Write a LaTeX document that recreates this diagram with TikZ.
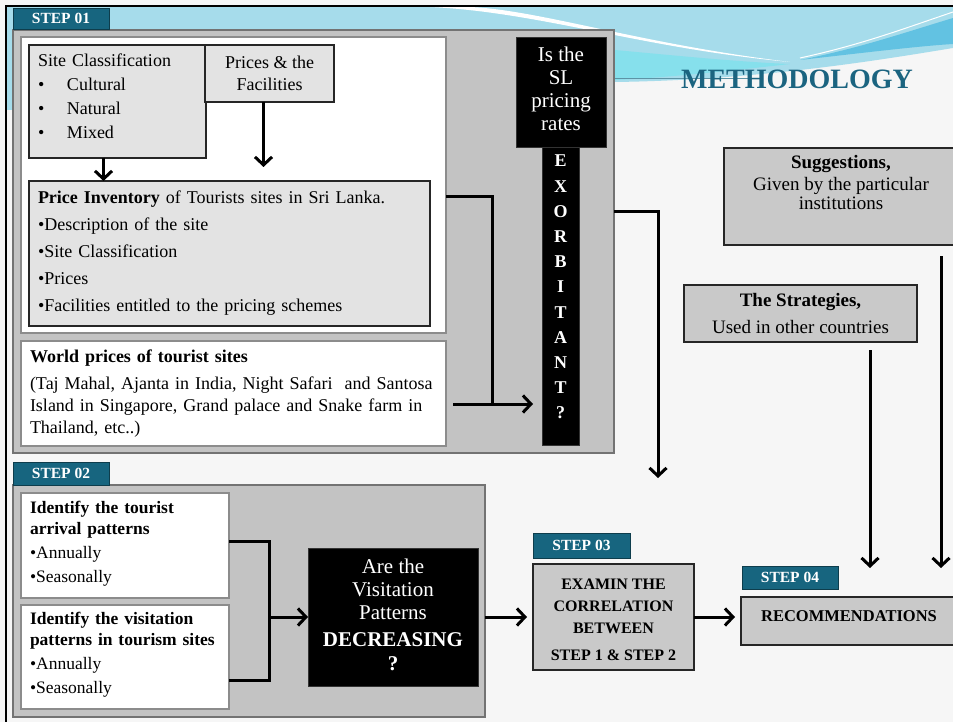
\documentclass[tikz,border=0pt]{standalone}
\usepackage{fontspec}
\setmainfont{Liberation Serif}
\usetikzlibrary{arrows.meta}
\definecolor{tabteal}{HTML}{17657F}
\definecolor{titleteal}{HTML}{1B6480}
\definecolor{panelgray}{HTML}{C3C3C3}
\definecolor{boxgray}{HTML}{E3E3E3}
\definecolor{sidegray}{HTML}{C9C9C9}
\definecolor{swoosh}{HTML}{A6DCEB}
\definecolor{swooshdark}{HTML}{62C2E2}
\definecolor{swooshcyan}{HTML}{86E0EC}
\definecolor{pagebg}{HTML}{F6F6F6}
\newcommand{\lowdepth}[1]{\rule[-#1]{0pt}{#1}}
\begin{document}
\begin{tikzpicture}[x=1pt,y=-1pt,
  every node/.style={rectangle,anchor=north west,inner sep=0pt,outer sep=0pt},
  box/.style={draw=black!85,line width=1.1pt},
  panel/.style={fill=panelgray,draw=black!55,line width=1.4pt},
  wbox/.style={fill=white,draw=black!45,line width=1.2pt},
  tab/.style={fill=tabteal,draw=tabteal!60!black,line width=0.8pt,text=white,font=\bfseries\fontsize{15.5}{15.5}\selectfont},
  blk/.style={fill=black,text=white,draw=black!80},
  conn/.style={line width=3pt},
  arr/.style={line width=3pt,-{Straight Barb[length=8pt,width=17pt]}}]
  \clip (0,0) rectangle (953,722);
  \fill[pagebg] (0,0) rectangle (953,722);
  % top swoosh
  \fill[swoosh] (7,7) -- (953,7) -- (953,48) .. controls (880,60) and (760,80) .. (615,82) -- (615,30) -- (7,30) -- cycle;
  \fill[swooshcyan] (615,50) .. controls (680,56) and (740,62) .. (790,64) .. controls (720,72) and (660,78) .. (615,80) -- cycle;
  \fill[white] (430,7) .. controls (540,12) and (640,48) .. (790,62) .. controls (640,44) and (540,10) .. (470,7) -- cycle;
  \fill[swooshdark] (953,18) .. controls (900,34) and (860,48) .. (800,60) .. controls (870,52) and (920,46) .. (953,44) -- cycle;
  \draw[white,line width=1pt] (953,12) .. controls (900,30) and (860,45) .. (800,58);
  \draw[tabteal!70,line width=0.8pt] (590,78) -- (760,78);
  \fill[swoosh] (7,30) rectangle (12,110);
  \draw[line width=2pt] (6,722) -- (6,6) -- (953,6);

  % step 01
  \node[panel,minimum width=601pt,minimum height=423pt] (panelA) at (13,30) {};
  \node[tab,minimum width=96pt,minimum height=21pt] (tabA) at (13,8) {STEP 01};
  \node[wbox,minimum width=425pt,minimum height=296pt] (whiteA) at (21,37) {};
  \node[box,fill=boxgray,minimum width=177pt,minimum height=113pt,text width=159pt,inner xsep=9pt,align=left,font=\fontsize{18}{24}\selectfont] (site) at (29,45)
    {Site Classification\\ \makebox[29pt][l]{•}Cultural\\ \makebox[29pt][l]{•}Natural\\ \makebox[29pt][l]{•}Mixed\lowdepth{10pt}};
  \node[box,fill=boxgray,minimum width=129pt,minimum height=57pt,align=center,font=\fontsize{18}{22}\selectfont] (prices) at (205,45) {Prices \& the\\Facilities};
  \node[box,fill=boxgray,minimum width=401pt,minimum height=145pt,text width=383pt,inner xsep=9pt,align=left,font=\fontsize{18}{27}\selectfont] (invent) at (29,181)
    {\textbf{Price Inventory} of Tourists sites in Sri Lanka.\\ •Description of the site\\ •Site Classification\\ •Prices\\ •Facilities entitled to the pricing schemes};
  \node[wbox,minimum width=425pt,minimum height=105pt,text width=407pt,inner xsep=9pt,align=left,font=\fontsize{18}{22}\selectfont] (world) at (21,341)
    {\textbf{World prices of tourist sites}\\[5pt] (Taj Mahal, Ajanta in India, Night Safari\ \ and Santosa\\ Island in Singapore, Grand palace and Snake farm in\\ Thailand, etc..)};
  \node[blk,minimum width=90pt,minimum height=110pt,align=center,font=\fontsize{21}{23}\selectfont] (slrates) at (516,37) {Is the\\SL\\pricing\\rates\lowdepth{7pt}};
  \node[blk,minimum width=37pt,minimum height=298pt,align=center,font=\bfseries\fontsize{18}{25.2}\selectfont] (exorb) at (542,147) {E\\X\\O\\R\\B\\I\\T\\A\\N\\T\\?\lowdepth{18pt}};

  \draw[arr] ([xshift=-14pt]site.south) -- ([xshift=-14pt]site.south |- invent.north);
  \draw[arr,shorten >=14pt] ([xshift=-6pt]prices.south) -- ([xshift=-6pt]prices.south |- invent.north);
  \coordinate (joinA) at (492,197);
  \coordinate (joinB) at (492,404);
  \coordinate (worldout) at (453,404);
  \draw[conn] (whiteA.east |- joinA) -- (joinA) -- (joinB);
  \draw[arr,shorten >=9pt] (worldout) -- (exorb.west |- worldout);
  \coordinate (turnA) at (658,212);
  \coordinate (dropA) at (658,478);
  \draw[arr] (panelA.east |- turnA) -- (turnA) -- (dropA);

  \node[anchor=center,text=titleteal,font=\bfseries\fontsize{28}{28}\selectfont] (title) at (797,79) {METHODOLOGY};

  % right column
  \node[box,fill=sidegray,minimum width=234pt,minimum height=97pt] (suggest) at (724,148) {};
  \node[anchor=north,align=center,font=\fontsize{19}{19}\selectfont] (suggestText) at ([yshift=-7pt]suggest.north)
    {\textbf{Suggestions,}\\[3pt]Given by the particular\\institutions};
  \node[box,fill=sidegray,minimum width=233pt,minimum height=57pt,align=center,font=\fontsize{19}{27}\selectfont] (strat) at (684,285)
    {\textbf{The Strategies,}\\Used in other countries};
  \coordinate (stratout) at (870,350);
  \coordinate (stratin) at (870,568);
  \coordinate (suggout) at (941,256);
  \coordinate (suggin) at (941,568);
  \draw[arr] (stratout) -- (stratin);
  \draw[arr] (suggout) -- (suggin);

  % step 02
  \node[panel,minimum width=472pt,minimum height=232pt] (panelB) at (13,485) {};
  \node[tab,minimum width=96pt,minimum height=23pt] (tabB) at (13,462) {STEP 02};
  \node[wbox,minimum width=208pt,minimum height=105pt,text width=190pt,inner xsep=9pt,align=left,font=\fontsize{17.5}{24}\selectfont] (arrival) at (21,493)
    {\textbf{Identify the tourist}\\[-3pt]\textbf{arrival patterns}\\ •Annually\\ •Seasonally\lowdepth{8pt}};
  \node[wbox,minimum width=208pt,minimum height=104pt,text width=190pt,inner xsep=9pt,align=left,font=\fontsize{17.5}{24}\selectfont] (visit) at (21,605)
    {\textbf{Identify the visitation}\\[-3pt]\textbf{patterns in tourism sites}\\ •Annually\\ •Seasonally\lowdepth{8pt}};
  \node[blk,minimum width=170pt,minimum height=138pt,align=center,font=\fontsize{21}{23}\selectfont] (decr) at (308,548)
    {Are the\\Visitation\\Patterns\\[4pt]\textbf{DECREASING}\\[1pt]\textbf{?}\lowdepth{5pt}};
  \coordinate (joinC) at (269,541);
  \coordinate (joinD) at (269,680);
  \draw[conn] (arrival.east |- joinC) -- (joinC) -- (joinD) -- (visit.east |- joinD);
  \draw[arr] (joinC |- decr.west) -- (decr.west);

  % step 03 and 04
  \node[box,fill=sidegray,minimum width=161pt,minimum height=106pt,align=center,font=\bfseries\fontsize{16}{22}\selectfont] (examin) at (533,564)
    {\rule{0pt}{17pt}EXAMIN THE\\CORRELATION\\BETWEEN\\[5pt]STEP 1 \& STEP 2};
  \node[tab,minimum width=97pt,minimum height=25pt] (tabC) at (533,533) {STEP 03};
  \draw[arr,shorten >=6pt] (panelB.east |- examin.west) -- (examin.west);
  \node[box,fill=sidegray,minimum width=216pt,minimum height=48pt,text height=11pt,text depth=11pt,font=\bfseries\fontsize{16.5}{16.5}\selectfont] (recomm) at (741,597) {RECOMMENDATIONS};
  \node[tab,minimum width=96pt,minimum height=23pt] (tabD) at (742,566) {STEP 04};
  \draw[arr,shorten >=6pt] (examin.east) -- (recomm.west |- examin.east);
\end{tikzpicture}
\end{document}
